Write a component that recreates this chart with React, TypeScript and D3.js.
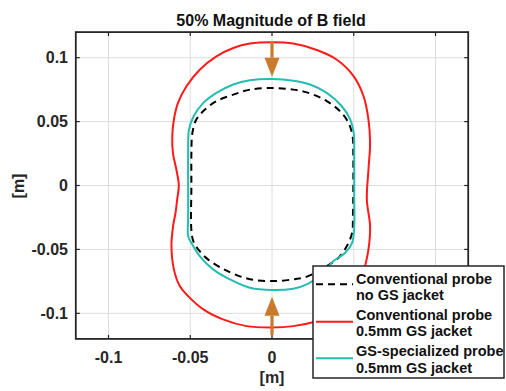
import React from "react";
import * as d3 from "d3";

const W = 506;
const H = 391;

const title = "50% Magnitude of B field";
const xTicks = [-0.1, -0.05, 0, 0.05, 0.1];
const yTicks = [-0.1, -0.05, 0, 0.05, 0.1];
const xTickLabels = ["-0.1", "-0.05", "0", "0.05", "0.1"];
const yTickLabels = ["-0.1", "-0.05", "0", "0.05", "0.1"];
const xDomain = [-0.12, 0.12];
const yDomain = [-0.12, 0.12];

// Conventional probe, no GS jacket (black dashed)
const noJacket: [number, number][] = [
  [0, 0.0763], [-0.0135, 0.075], [-0.0237, 0.0711], [-0.034, 0.066], [-0.041, 0.0594],
  [-0.0463, 0.0516], [-0.0487, 0.0411], [-0.0493, 0.0255], [-0.0493, 0], [-0.0493, -0.035],
  [-0.048, -0.044], [-0.0445, -0.051], [-0.039, -0.058], [-0.031, -0.0645], [-0.0237, -0.069],
  [-0.0135, -0.0733], [0, -0.0748], [0.013, -0.0734], [0.0213, -0.0713], [0.0335, -0.063],
  [0.0407, -0.0565], [0.0458, -0.0474], [0.049, -0.037], [0.0495, -0.024], [0.0497, 0.0255],
  [0.0493, 0.0385], [0.0468, 0.049], [0.0417, 0.058], [0.0335, 0.066], [0.0233, 0.072],
  [0.013, 0.075],
];

// Conventional probe, 0.5mm GS jacket (red)
const convJacket: [number, number][] = [
  [0, 0.112], [-0.0135, 0.111], [-0.0237, 0.1076], [-0.034, 0.101], [-0.0442, 0.0906],
  [-0.0523, 0.0776], [-0.0575, 0.0646], [-0.06, 0.0516], [-0.061, 0.0385], [-0.0606, 0.0255],
  [-0.0585, 0.0125], [-0.057, 0.0], [-0.058, -0.011], [-0.059, -0.0213], [-0.0605, -0.0318],
  [-0.0615, -0.0474], [-0.06, -0.0656], [-0.0564, -0.0787], [-0.0513, -0.0865], [-0.042, -0.0969],
  [-0.03, -0.1047], [-0.0155, -0.11], [0, -0.111], [0.013, -0.11], [0.025, -0.107],
  [0.037, -0.101], [0.047, -0.092], [0.053, -0.081], [0.056, -0.068], [0.059, -0.05],
  [0.06, -0.032], [0.058, -0.011], [0.059, 0.0125], [0.06, 0.0333], [0.059, 0.0516],
  [0.056, 0.0698], [0.05, 0.0854], [0.0397, 0.0984], [0.0274, 0.106], [0.013, 0.111],
];

// GS-specialized probe, 0.5mm GS jacket (teal)
const gsJacket: [number, number][] = [
  [0, 0.0833], [-0.0135, 0.0823], [-0.0237, 0.079], [-0.034, 0.0724], [-0.042, 0.0646],
  [-0.048, 0.054], [-0.0508, 0.0437], [-0.0513, 0.0255], [-0.0513, 0.0], [-0.0513, -0.0266],
  [-0.0513, -0.0396], [-0.0493, -0.0448], [-0.0442, -0.0552], [-0.036, -0.0656], [-0.0258, -0.0734],
  [-0.0135, -0.08], [0, -0.0818], [0.013, -0.0807], [0.0213, -0.0773], [0.03, -0.07],
  [0.0376, -0.0591], [0.0448, -0.0526], [0.049, -0.0448], [0.0503, -0.032], [0.0503, -0.011],
  [0.0503, 0.0255], [0.05, 0.041], [0.0479, 0.0516], [0.0427, 0.062], [0.0335, 0.0724],
  [0.0233, 0.079], [0.013, 0.082],
];

const arrowX = [0, 0];
const arrowFrom = [0.1125, -0.117];
const arrowTo = [0.0851, -0.087];

const legendLabels = [
  ["Conventional probe", "no GS jacket"],
  ["Conventional probe", "0.5mm GS jacket"],
  ["GS-specialized probe", "0.5mm GS jacket"],
];

const FONT = "'Liberation Sans', Arial, Helvetica, sans-serif";
const RED = "#ff1a1a";
const TEAL = "#25bdb3";
const ORANGE = "#c97a2b";
const AXIS = "#262626";

export default function App() {
  const left = 75.8, right = 468.2, top = 32.1, bottom = 338.9;
  const x = d3.scaleLinear().domain(xDomain).range([left, right]);
  const y = d3.scaleLinear().domain(yDomain).range([bottom, top]);
  const line = d3
    .line<[number, number]>()
    .x((d) => x(d[0]))
    .y((d) => y(d[1]))
    .curve(d3.curveCatmullRomClosed.alpha(0.5));

  const series = [
    { data: noJacket, color: "#000", dash: "7,5" },
    { data: convJacket, color: RED, dash: undefined },
    { data: gsJacket, color: TEAL, dash: undefined },
  ];

  const tickLen = 4;
  const headLen = 19;
  const headHalf = 7.5;

  const lg = { x: 313, y: 266, w: 191, h: 112 };
  const lgLineY = [284.3, 321.7, 358.3];
  const lgTextY = [[283.5, 300], [319.5, 336], [356, 372.5]];

  return (
    <svg width={W} height={H} style={{ position: "absolute", left: 0, top: 0, background: "#fff" }}>
      <rect x={0} y={0} width={W} height={H} fill="#fff" />
      {/* grid */}
      {xTicks.map((t, i) => (
        <line key={"gx" + i} x1={x(t)} x2={x(t)} y1={top} y2={bottom} stroke="#dedede" strokeWidth={1} />
      ))}
      {yTicks.map((t, i) => (
        <line key={"gy" + i} x1={left} x2={right} y1={y(t)} y2={y(t)} stroke="#dedede" strokeWidth={1} />
      ))}
      {/* curves */}
      {series.map((s, i) => (
        <path
          key={"s" + i}
          d={line(s.data) || ""}
          fill="none"
          stroke={s.color}
          strokeWidth={2}
          strokeDasharray={s.dash}
        />
      ))}
      {/* arrows */}
      {arrowX.map((ax, i) => {
        const px = x(ax);
        const y0 = y(arrowFrom[i]);
        const y1 = y(arrowTo[i]);
        const dir = y1 > y0 ? 1 : -1;
        const base = y1 - dir * headLen;
        return (
          <g key={"a" + i}>
            <line x1={px} x2={px} y1={y0} y2={base} stroke={ORANGE} strokeWidth={3.2} />
            <path d={`M${px - headHalf},${base}L${px + headHalf},${base}L${px},${y1}Z`} fill={ORANGE} />
          </g>
        );
      })}
      {/* ticks */}
      {xTicks.map((t, i) => (
        <g key={"tx" + i}>
          <line x1={x(t)} x2={x(t)} y1={bottom} y2={bottom - tickLen} stroke={AXIS} strokeWidth={1.2} />
          <line x1={x(t)} x2={x(t)} y1={top} y2={top + tickLen} stroke={AXIS} strokeWidth={1.2} />
          <text x={x(t)} y={363} textAnchor="middle" fontFamily={FONT} fontWeight="bold" fontSize={16} fill={AXIS}>
            {xTickLabels[i]}
          </text>
        </g>
      ))}
      {yTicks.map((t, i) => (
        <g key={"ty" + i}>
          <line x1={left} x2={left + tickLen} y1={y(t)} y2={y(t)} stroke={AXIS} strokeWidth={1.2} />
          <line x1={right} x2={right - tickLen} y1={y(t)} y2={y(t)} stroke={AXIS} strokeWidth={1.2} />
          <text x={68} y={y(t) + 5.6} textAnchor="end" fontFamily={FONT} fontWeight="bold" fontSize={16} fill={AXIS}>
            {yTickLabels[i]}
          </text>
        </g>
      ))}
      {/* box */}
      <rect x={left} y={top} width={right - left} height={bottom - top} fill="none" stroke={AXIS} strokeWidth={1.8} />
      {/* title & labels */}
      <text x={271} y={26} textAnchor="middle" fontFamily={FONT} fontWeight="bold" fontSize={16} fill="#111">
        {title}
      </text>
      <text x={272} y={383} textAnchor="middle" fontFamily={FONT} fontWeight="bold" fontSize={16} fill={AXIS}>
        [m]
      </text>
      <text
        transform={`translate(24,186) rotate(-90)`}
        textAnchor="middle"
        fontFamily={FONT}
        fontWeight="bold"
        fontSize={16}
        fill={AXIS}
      >
        [m]
      </text>
      {/* legend */}
      <rect x={lg.x} y={lg.y} width={lg.w} height={lg.h} fill="#fff" stroke={AXIS} strokeWidth={1.5} />
      {series.map((s, i) => (
        <g key={"l" + i}>
          <line
            x1={316}
            x2={353}
            y1={lgLineY[i]}
            y2={lgLineY[i]}
            stroke={s.color}
            strokeWidth={2}
            strokeDasharray={s.dash}
          />
          {legendLabels[i].map((t, j) => (
            <text key={j} x={356} y={lgTextY[i][j]} fontFamily={FONT} fontWeight="bold" fontSize={14.5} fill="#111">
              {t}
            </text>
          ))}
        </g>
      ))}
    </svg>
  );
}
